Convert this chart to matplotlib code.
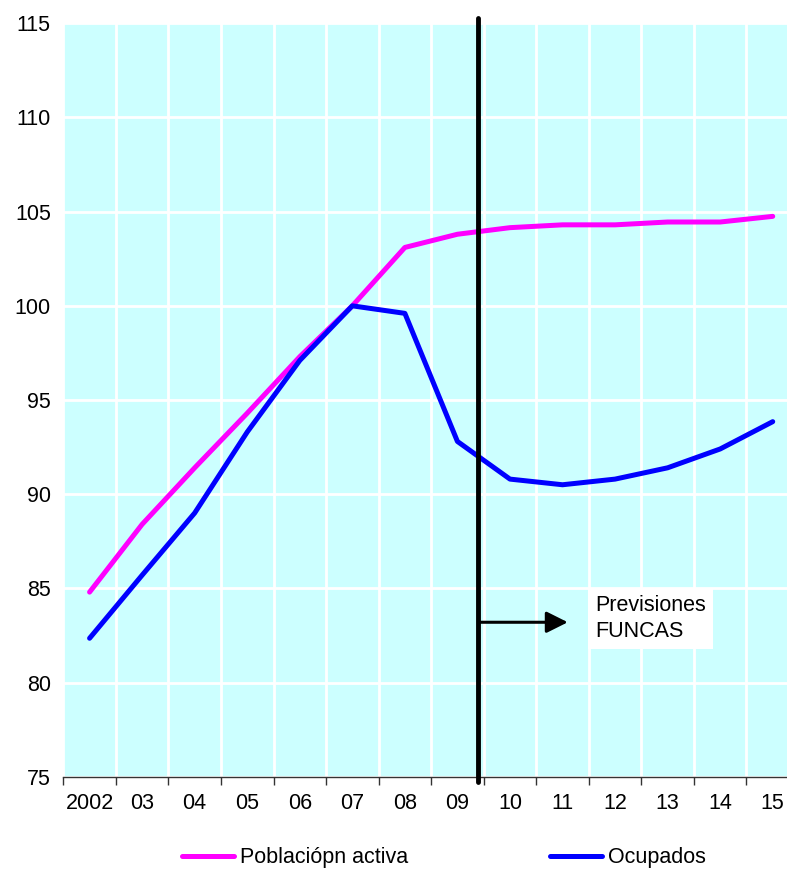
import matplotlib
matplotlib.use("Agg")
import matplotlib.pyplot as plt
import numpy as np

plt.rcParams['font.family'] = ['Liberation Sans', 'DejaVu Sans']

categories = ["2002", "03", "04", "05", "06", "07", "08", "09", "10", "11", "12", "13", "14", "15"]
poblacion_activa = [84.8, 88.4, 91.4, 94.3, 97.3, 100.0, 103.1, 103.8, 104.15, 104.3, 104.3, 104.45, 104.45, 104.75]
ocupados = [82.35, 85.7, 89.0, 93.3, 97.1, 100.0, 99.6, 92.8, 90.8, 90.5, 90.8, 91.4, 92.4, 93.85]
y_ticks = [75, 80, 85, 90, 95, 100, 105, 110, 115]

FS = 15.5
W, H = 787, 873
fig = plt.figure(figsize=(W / 100, H / 100), dpi=100)
left, right, top, bottom = 63.3, 799.0, 23.3, 776.7
ax = fig.add_axes([left / W, 1 - bottom / H, (right - left) / W, (bottom - top) / H])

x = np.arange(len(categories))
ax.set_facecolor('#CCFFFF')
ax.set_xlim(-0.5, len(categories) - 0.5)
ax.set_ylim(75, 115)

# grid
for b in np.arange(-0.5, len(categories) + 0.5, 1.0):
    ax.axvline(b, color='white', lw=2.0, zorder=1)
for yt in y_ticks:
    ax.axhline(yt, color='white', lw=2.0, zorder=1)

ax.plot(x, poblacion_activa, color='#FF00FF', lw=3.6, solid_capstyle='round',
        solid_joinstyle='round', zorder=3, label='Poblaciópn activa')
ax.plot(x, ocupados, color='#0000FF', lw=3.6, solid_capstyle='round',
        solid_joinstyle='round', zorder=3, label='Ocupados')

# forecast separator
sep_x = 7.4
ax.plot([sep_x, sep_x], [74.73, 115.27], color='black', lw=3.5, solid_capstyle='round',
        clip_on=False, zorder=5)
ax.annotate('', xy=(9.1, 83.2), xytext=(7.42, 83.2),
            arrowprops=dict(arrowstyle='-|>,head_length=1.3,head_width=0.65', color='black', lw=2.2,
                            shrinkA=0, shrinkB=0), zorder=6)
ax.text(9.62, 83.4, 'Previsiones\nFUNCAS', fontsize=FS, ha='left', va='center',
        linespacing=1.3, zorder=6,
        bbox=dict(facecolor='white', edgecolor='none', boxstyle='square,pad=0.32'))

# axes styling
for s in ['left', 'top', 'right']:
    ax.spines[s].set_visible(False)
ax.spines['bottom'].set_color('#333333')
ax.spines['bottom'].set_linewidth(1.0)
ax.spines['bottom'].set_zorder(4)

ax.set_yticks(y_ticks)
ax.set_yticklabels([str(v) for v in y_ticks], fontsize=FS)
ax.tick_params(axis='y', length=0, pad=9)

ax.set_xticks(x)
ax.set_xticklabels(categories, fontsize=FS)
ax.set_xticks(np.arange(-0.5, len(categories) + 0.5, 1.0), minor=True)
ax.tick_params(axis='x', which='major', length=0, pad=12)
ax.tick_params(axis='x', which='minor', length=6, width=1.0, color='#333333', direction='out')

leg = fig.legend(loc='center left', bbox_to_anchor=(182 / W, 1 - 858 / H), ncol=2,
                 frameon=False, fontsize=FS, handlelength=2.4, handletextpad=0.3,
                 columnspacing=6.6, borderpad=0, borderaxespad=0)
for line in leg.get_lines():
    line.set_linewidth(3.6)

fig.savefig('out.png', dpi=100)
